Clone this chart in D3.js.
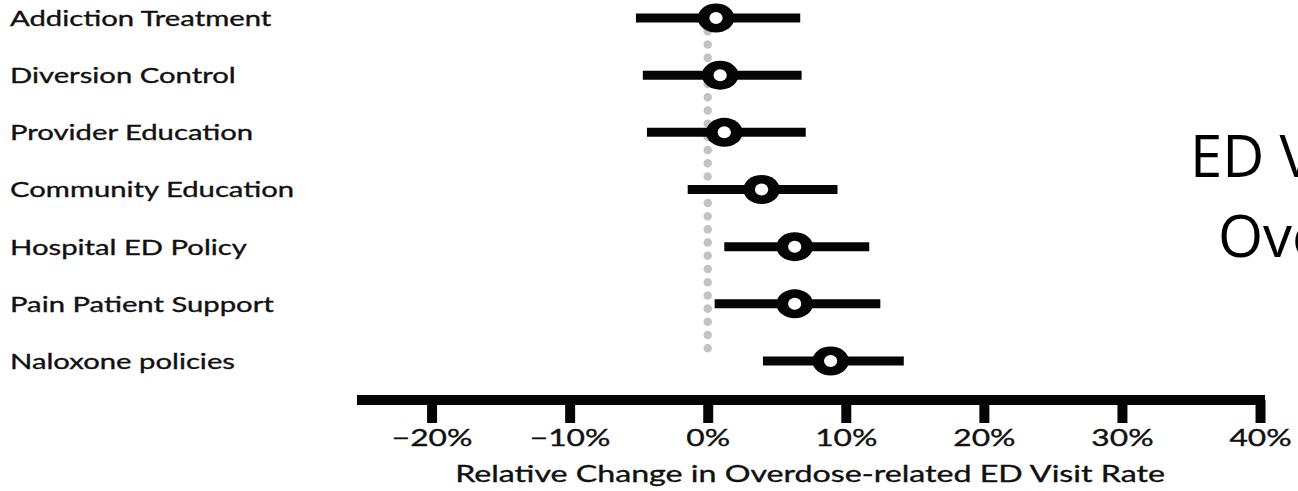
<!DOCTYPE html>
<html>
<head>
<meta charset="utf-8">
<script src="https://cdn.jsdelivr.net/npm/d3@7"></script>
<style>
  html, body { margin: 0; padding: 0; background: #fff; overflow: hidden; }
  svg { display: block; }
</style>
</head>
<body>
<div id="chart"></div>
<script>
const WIDTH = 1298
const HEIGHT = 491

// interventions, top to bottom
var categories = ["Addiction Treatment", "Diversion Control", "Provider Education",
  "Community Education", "Hospital ED Policy", "Pain Patient Support", "Naloxone policies"]
// point estimate and interval ends (%)
var estimate = [0.6, 0.9, 1.2, 3.9, 6.3, 6.3, 8.9]
var lower = [-5.2, -4.7, -4.4, -1.45, 1.2, 0.5, 4.0]
var upper = [6.7, 6.8, 7.1, 9.4, 11.7, 12.5, 14.2]
var ticks = [-20, -10, 0, 10, 20, 30, 40]

var titleLines = ["ED Visits for Opioid", "Overdose"]
var xTitle = "Relative Change in Overdose-related ED Visit Rate"

var FONT = "Lato, 'Noto Sans', sans-serif"

var svg = d3.select("#chart").append("svg")
  .attr("width", WIDTH)
  .attr("height", HEIGHT)

var x = d3.scaleLinear()
  .domain([-25.4, 40.36])
  .range([357, 1265])

var y = d3.scalePoint()
  .domain(categories)
  .range([18, 361])

// gray reference line at 0%
svg.append("line")
  .attr("x1", x(0)).attr("x2", x(0))
  .attr("y1", y(categories[0])).attr("y2", y(categories[categories.length - 1]))
  .attr("stroke", "#c3c3c3")
  .attr("stroke-width", 8.5)
  .attr("stroke-linecap", "round")
  .attr("stroke-dasharray", "0.01 13.2")

// row labels (text in the picture is stretched sideways)
svg.selectAll(".label")
  .data(categories)
  .enter().append("text")
  .attr("class", "label")
  .attr("transform", d => "translate(10," + y(d) + ") scale(1.33,1)")
  .attr("dy", "0.36em")
  .style("font-family", FONT)
  .style("font-size", "22px")
  .style("fill", "#111")
  .style("stroke", "#111")
  .style("stroke-width", 0.35)
  .text(d => d)

var rows = svg.selectAll(".row")
  .data(categories)
  .enter().append("g")
  .attr("class", "row")

rows.append("line")
  .attr("x1", (d, i) => x(lower[i]))
  .attr("x2", (d, i) => x(upper[i]))
  .attr("y1", d => y(d)).attr("y2", d => y(d))
  .attr("stroke", "#050505")
  .attr("stroke-width", 9)

rows.append("ellipse")
  .attr("cx", (d, i) => x(estimate[i]))
  .attr("cy", d => y(d))
  .attr("rx", 18.3).attr("ry", 14.5)
  .attr("fill", "#050505")

rows.append("ellipse")
  .attr("cx", (d, i) => x(estimate[i]))
  .attr("cy", d => y(d))
  .attr("rx", 6.6).attr("ry", 6)
  .attr("fill", "#fff")

// x axis
var axis = svg.append("g")
  .attr("transform", "translate(0,400)")
  .call(d3.axisBottom(x)
    .tickValues(ticks)
    .tickSize(23)
    .tickSizeOuter(0)
    .tickPadding(6)
    .tickFormat(d => d3.format("d")(d) + "%"))

axis.select(".domain")
  .attr("stroke", "#050505")
  .attr("stroke-width", 10)
  .attr("d", "M" + x.range()[0] + ",0H" + x.range()[1])

axis.selectAll(".tick line")
  .attr("stroke", "#050505")
  .attr("stroke-width", 10)

axis.selectAll(".tick text")
  .attr("transform", "scale(1.35,1)")
  .style("font-family", FONT)
  .style("font-size", "23.5px")
  .style("fill", "#111")
  .style("stroke", "#111")
  .style("stroke-width", 0.35)

svg.append("text")
  .attr("transform", "translate(810,482) scale(1.43,1)")
  .attr("text-anchor", "middle")
  .style("font-family", FONT)
  .style("font-size", "22.5px")
  .style("fill", "#111")
  .style("stroke", "#111")
  .style("stroke-width", 0.35)
  .text(xTitle)

// slide title, cut off by the right edge as in the picture
svg.selectAll(".slide-title")
  .data(titleLines)
  .enter().append("text")
  .attr("class", "slide-title")
  .attr("x", (d, i) => i == 0 ? 1190 : 1218)
  .attr("y", (d, i) => i == 0 ? 177 : 257)
  .style("font-family", "'Open Sans', sans-serif")
  .style("font-size", "58px")
  .style("fill", "#000")
  .text(d => d)
</script>
</body>
</html>
